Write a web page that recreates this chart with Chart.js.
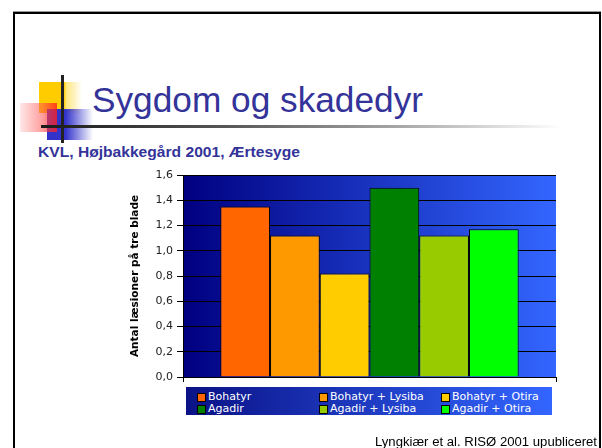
<!DOCTYPE html>
<html>
<head>
<meta charset="utf-8">
<script src="https://cdn.jsdelivr.net/npm/chart.js@4.4.1/dist/chart.umd.min.js"></script>
<style>
  html, body { margin:0; padding:0; background:#fff; }
  body { width:602px; height:448px; position:relative; overflow:hidden; }
  .abs { position:absolute; }
  #frame { left:13px; top:12px; width:588px; height:470px; box-sizing:border-box; border:2px solid #000; box-shadow:0 -1px 0 #999; }
  #title { left:92px; top:82px; font-family:"Liberation Sans", Arial, sans-serif; font-size:35px; line-height:35px; color:#333399; white-space:nowrap; transform-origin:0 0; }
  #subtitle { left:38px; top:145px; font-family:"Liberation Sans", Arial, sans-serif; font-weight:bold; font-size:14px; line-height:14px; color:#333399; white-space:nowrap; transform-origin:0 0; }
  #footer { left:375px; top:436px; font-family:"Liberation Sans", Arial, sans-serif; font-size:12px; line-height:12px; color:#000; white-space:nowrap; transform-origin:0 0; }
  #legend { left:186px; top:387px; width:366px; height:28px; background:linear-gradient(to right, #0a1286, #3366ff); }
  .lg-item { position:absolute; font-family:"DejaVu Sans", sans-serif; font-size:11px; line-height:13px; color:#fff; white-space:nowrap; }
  .lg-box { position:absolute; width:7px; height:7px; border:1px solid #000; top:3px; left:-11px; }
  canvas { position:absolute; left:0; top:0; }
</style>
</head>
<body>
<div id="frame" class="abs"></div>
<!-- decorative logo -->
<div class="abs" style="left:39px;top:82px;width:43px;height:31px;background:linear-gradient(to right,#ffcc00 0%,#ffcc00 58%,#ffe680 64%,rgba(255,255,255,0) 100%);"></div>
<div class="abs" style="left:47px;top:109px;width:46px;height:31px;background:linear-gradient(to right,#3333cc 0%,#3333cc 40%,rgba(51,51,204,0.5) 70%,rgba(255,255,255,0) 100%);"></div>
<div class="abs" style="left:20px;top:103px;width:37px;height:29px;background:linear-gradient(to left,rgba(255,30,30,0.8) 0%,rgba(255,80,80,0.55) 40%,rgba(255,160,160,0.25) 100%);"></div>
<div class="abs" style="left:61px;top:75px;width:3px;height:68px;background:#222;"></div>
<div class="abs" style="left:41px;top:125px;width:520px;height:3px;background:linear-gradient(to right,#1a1a1a 0%,#555 35%,#aaa 70%,#fff 100%);"></div>

<div id="title" class="abs">Sygdom og skadedyr</div>
<div id="subtitle" class="abs">KVL, Højbakkegård 2001, Ærtesyge</div>

<canvas id="c" width="602" height="448"></canvas>

<div id="legend" class="abs"></div>
<div id="footer" class="abs">Lyngkiær et al. RISØ 2001 upubliceret</div>

<script>
// ---- data ----
const categories = [''];
const seriesNames = ['Bohatyr', 'Bohatyr + Lysiba', 'Bohatyr + Otira', 'Agadir', 'Agadir + Lysiba', 'Agadir + Otira'];
const seriesValues = [1.35, 1.12, 0.82, 1.50, 1.12, 1.17];
const seriesColors = ['#ff6600', '#ff9900', '#ffcc00', '#008000', '#99cc00', '#00ff00'];
const yTickLabels = ['0,0', '0,2', '0,4', '0,6', '0,8', '1,0', '1,2', '1,4', '1,6'];
const yAxisTitle = 'Antal læsioner på tre blade';

// fit text widths
function fit(id, w) {
  const el = document.getElementById(id);
  const nat = el.getBoundingClientRect().width;
  el.style.transform = 'scaleX(' + (w / nat) + ')';
}
fit('title', 331);
fit('subtitle', 262);
fit('footer', 222);

const plotBg = {
  id: 'plotBg',
  beforeDraw(chart) {
    const { ctx, chartArea: a } = chart;
    const g = ctx.createLinearGradient(a.left, 0, a.right, 0);
    g.addColorStop(0, '#000080');
    g.addColorStop(1, '#3366ff');
    ctx.save();
    ctx.fillStyle = g;
    ctx.fillRect(a.left, a.top, a.right - a.left, a.bottom - a.top);
    ctx.restore();
  }
};

const chart = new Chart(document.getElementById('c'), {
  type: 'bar',
  data: {
    labels: categories,
    datasets: seriesNames.map((n, i) => ({
      label: n,
      data: [seriesValues[i]],
      backgroundColor: seriesColors[i],
      borderColor: '#000',
      borderWidth: 1,
      categoryPercentage: 0.8,
      barPercentage: 1.0
    }))
  },
  options: {
    responsive: false,
    animation: false,
    devicePixelRatio: 1,
    layout: { padding: { left: 125, right: 46, top: 175, bottom: 65 } },
    plugins: { legend: { display: false }, tooltip: { enabled: false } },
    scales: {
      x: {
        grid: { drawOnChartArea: false, color: '#000', tickLength: 5, offset: true },
        border: { color: '#000', width: 1 },
        ticks: { display: false },
        afterFit(s) { s.height = 6; }
      },
      y: {
        min: 0, max: 1.6,
        ticks: {
          stepSize: 0.2,
          color: '#222',
          padding: 4,
          font: { family: 'DejaVu Sans', size: 11 },
          callback: (v, i) => yTickLabels[i]
        },
        grid: { color: '#000', lineWidth: 1, tickLength: 6 },
        border: { color: '#000', width: 1 },
        title: {
          display: true,
          text: yAxisTitle,
          color: '#000',
          font: { family: 'DejaVu Sans', size: 10.5, weight: 'bold' },
          padding: { top: 4, bottom: 0 }
        },
        afterFit(s) { s.width = 58; }
      }
    }
  },
  plugins: [plotBg]
});

// HTML legend from data
const lg = document.getElementById('legend');
const colX = [22, 144, 266];
const rowY = [3, 15];
seriesNames.forEach((n, i) => {
  const it = document.createElement('div');
  it.className = 'lg-item';
  it.style.left = colX[i % 3] + 'px';
  it.style.top = rowY[Math.floor(i / 3)] + 'px';
  it.textContent = n;
  const b = document.createElement('span');
  b.className = 'lg-box';
  b.style.background = seriesColors[i];
  it.appendChild(b);
  lg.appendChild(it);
});
</script>
</body>
</html>
